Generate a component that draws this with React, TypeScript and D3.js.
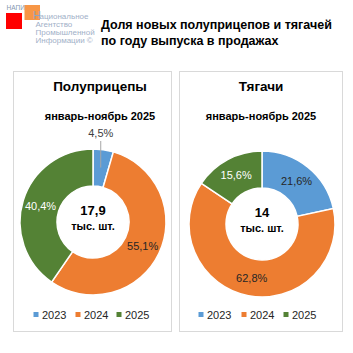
import * as d3 from "d3";

const years = ["2023", "2024", "2025"];
const semiShares = [4.5, 55.1, 40.4];
const tractorShares = [21.6, 62.8, 15.6];
const panelTitles = ["Полуприцепы", "Тягачи"];
const periodLabel = "январь-ноябрь 2025";
const totals = ["17,9", "14"];
const unitLabel = "тыс. шт.";
const colors = ["#5B9BD5", "#ED7D31", "#548235"];
// label colour per slice (dark on blue/orange, white on green)
const labelFill = ["#262626", "#262626", "#FFFFFF"];

const FONT = "'Liberation Sans', Arial, sans-serif";

type DonutProps = {
     values: number[],
     title: string,
     total: string,
     box: { x: number, y: number, w: number, h: number },
     cx: number,
     cy: number,
     titleX: number,
     legendX: number[],
}

const fmt = (v: number) => v.toFixed(1).replace(".", ",") + "%";

const Donut = (props: DonutProps) => {
     const { values, title, total, box, cx, cy, titleX, legendX } = props
     const outerR = 73
     const innerR = 36

     const pie = d3.pie<number>().sort(null).value(d => d)
     const arcs = pie(values)
     const arc = d3.arc<d3.PieArcDatum<number>>().innerRadius(innerR).outerRadius(outerR)
     const labelArc = d3.arc<d3.PieArcDatum<number>>().innerRadius(55).outerRadius(55)

     return (
          <g>
               <rect x={box.x + 0.5} y={box.y + 0.5} width={box.w} height={box.h}
                    fill="#fff" stroke="#D9D9D9" strokeWidth={1} />
               <text x={titleX} y={91} textAnchor="middle" fontFamily={FONT}
                    fontSize={13.5} fontWeight="bold" fill="#000">{title}</text>
               <text x={titleX} y={120} textAnchor="middle" fontFamily={FONT}
                    fontSize={11} fontWeight="bold" fill="#000">{periodLabel}</text>

               <g transform={`translate(${cx},${cy})`}>
                    {arcs.map((a, i) => (
                         <path key={i} d={arc(a) || ""} fill={colors[i]}
                              stroke="#fff" strokeWidth={1.5} />
                    ))}
                    {arcs.map((a, i) => {
                         const [lx, ly] = labelArc.centroid(a)
                         if (a.data < 10) {
                              // small slice: label outside with a leader line
                              const ty = -outerR - 16
                              return (
                                   <g key={"l" + i}>
                                        <line x1={lx} x2={lx} y1={ty + 8} y2={ly}
                                             stroke="#A6A6A6" strokeWidth={1} />
                                        <text x={lx} y={ty + 4} textAnchor="middle"
                                             fontFamily={FONT} fontSize={11} fill="#404040">{fmt(a.data)}</text>
                                   </g>
                              )
                         }
                         return (
                              <text key={"l" + i} x={lx} y={ly + 4} textAnchor="middle"
                                   fontFamily={FONT} fontSize={11} fill={labelFill[i]}>{fmt(a.data)}</text>
                         )
                    })}
                    <text x={0} y={-7} textAnchor="middle" fontFamily={FONT}
                         fontSize={13} fontWeight="bold" fill="#000">{total}</text>
                    <text x={0} y={8} textAnchor="middle" fontFamily={FONT}
                         fontSize={11} fontWeight="bold" fill="#000">{unitLabel}</text>
               </g>

               {years.map((yr, i) => (
                    <g key={yr}>
                         <rect x={legendX[i] - 2.5} y={312} width={5} height={5} fill={colors[i]} />
                         <text x={legendX[i] + 6} y={319} fontFamily={FONT} fontSize={11}
                              fill="#262626">{yr}</text>
                    </g>
               ))}
          </g>
     )
}

export default function App() {
     const logoLines = ["ациональное", "Агентство", "Промышленной", "Информации ©"]
     return (
          <svg width={353} height={353} style={{ position: "absolute", left: 0, top: 0 }}>
               <rect width={353} height={353} fill="#fff" />
               {/* logo */}
               <text x={6.5} y={10} fontFamily={FONT} fontSize={6.5} fill="#8496B0">НАПИ</text>
               <rect x={6} y={13} width={16} height={16} fill="#FF0000" />
               <rect x={24.5} y={5} width={15.5} height={15} fill="#F79646" />
               <text x={33} y={19} fontFamily={FONT} fontSize={11} fill="#8EA4C0">Н</text>
               {logoLines.map((t, i) => (
                    <text key={t} x={i === 0 ? 39.5 : 35.5} y={19 + i * 8} fontFamily={FONT}
                         fontSize={8} fill="#9FB0C8">{t}</text>
               ))}
               {/* header */}
               <text x={101} y={29} fontFamily={FONT} fontSize={12.5} fontWeight="bold" fill="#000">
                    Доля новых полуприцепов и тягачей</text>
               <text x={101} y={45} fontFamily={FONT} fontSize={12.5} fontWeight="bold" fill="#000">
                    по году выпуска в продажах</text>

               <Donut values={semiShares} title={panelTitles[0]} total={totals[0]}
                    box={{ x: 13, y: 71, w: 158, h: 260 }} cx={93} cy={222} titleX={100}
                    legendX={[36, 78, 119]} />
               <Donut values={tractorShares} title={panelTitles[1]} total={totals[1]}
                    box={{ x: 179, y: 71, w: 163, h: 260 }} cx={262} cy={224} titleX={261}
                    legendX={[201, 244, 286]} />
          </svg>
     )
}
